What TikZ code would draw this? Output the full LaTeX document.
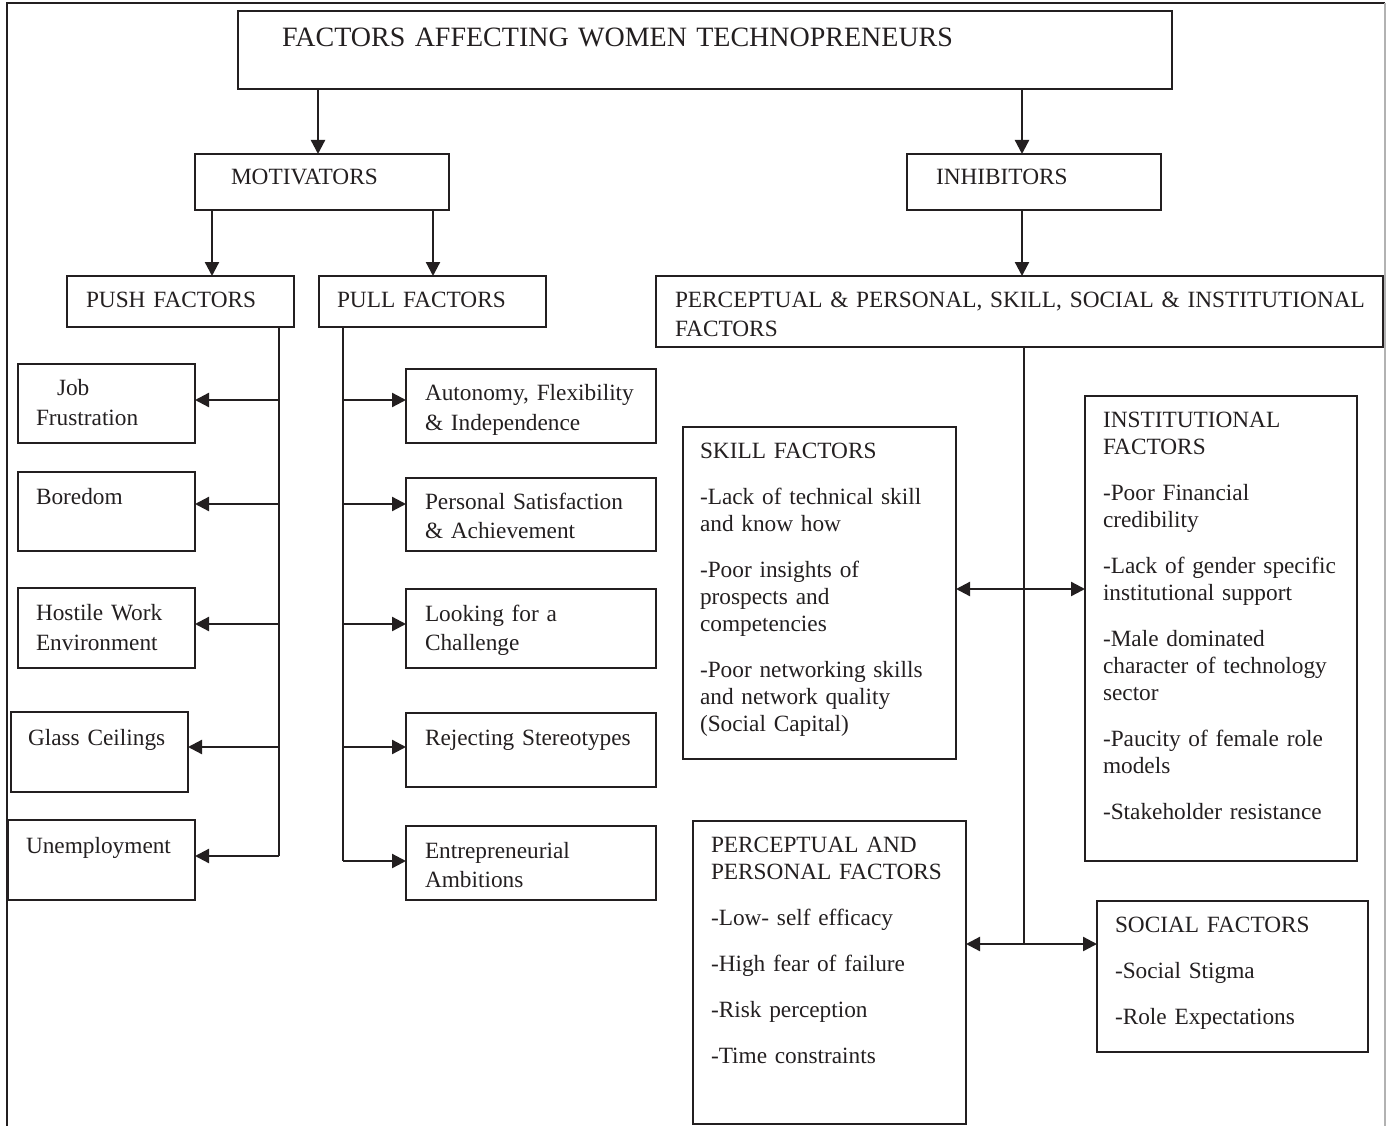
\documentclass[tikz,border=0pt]{standalone}
\usepackage{fontspec}
\setmainfont{Liberation Serif}
\usetikzlibrary{arrows.meta,calc}
\definecolor{ink}{RGB}{35,31,32}

\begin{document}
\begin{tikzpicture}[x=1pt, y=-1pt,
    every node/.style={font=\fontsize{23.3}{27}\selectfont, text=ink},
    factor/.style={draw=ink, line width=1.8pt, anchor=north west, align=left, inner xsep=18pt, inner ysep=0pt, outer sep=0pt},
    arr/.style={draw=ink, line width=2.3pt, -{Triangle[length=14pt, width=14pt]}},
    arr2/.style={draw=ink, line width=2.3pt, {Triangle[length=14pt, width=14pt]}-{Triangle[length=14pt, width=14pt]}},
    bus/.style={draw=ink, line width=1.8pt}]
    \useasboundingbox (0,0) rectangle (1386,1126);
    % Page frame
    \draw[ink, line width=1.4pt] (7,1130) -- (7,3) -- (1385,3);
    \draw[gray!60, line width=1.4pt] (1385,3) -- (1385,1130);

    % Top levels
    \node[factor, inner xsep=44pt, text width=846pt, text height=36pt, text depth=42pt, font=\fontsize{28}{34}\selectfont] (title) at (238,11) {FACTORS AFFECTING WOMEN TECHNOPRENEURS};
    \node[factor, inner xsep=36pt, text width=182pt, text height=31pt, text depth=25pt] (motiv) at (195,154) {MOTIVATORS};
    \node[factor, inner xsep=29pt, text width=196pt, text height=31pt, text depth=25pt] (inhib) at (907,154) {INHIBITORS};
    \node[factor, inner xsep=19pt, text width=189pt, text height=31pt, text depth=20pt] (push) at (67,276) {PUSH FACTORS};
    \node[factor, text width=191pt, text height=31pt, text depth=20pt] (pull) at (319,276) {PULL FACTORS};
    \node[factor, inner xsep=19pt, text width=689pt, text height=31pt, text depth=40pt, font=\fontsize{23.3}{29}\selectfont] (allfactors) at (656,276) {\mbox{PERCEPTUAL \& PERSONAL, SKILL, SOCIAL \& INSTITUTIONAL}\\FACTORS};

    % Push factors
    \node[factor, text width=141pt, text height=31pt, text depth=48pt, font=\fontsize{23.3}{30}\selectfont] (job) at (18,364) {\hspace*{21pt}Job\\Frustration};
    \node[factor, text width=141pt, text height=32pt, text depth=47pt] (boredom) at (18,472) {Boredom};
    \node[factor, text width=141pt, text height=32pt, text depth=48pt, font=\fontsize{23.3}{30}\selectfont] (hostile) at (18,588) {Hostile Work\\Environment};
    \node[factor, inner xsep=17pt, text width=143pt, text height=33pt, text depth=47pt] (glass) at (11,712) {Glass Ceilings};
    \node[factor, text width=151pt, text height=33pt, text depth=47pt] (unemp) at (8,820) {Unemployment};

    % Pull factors
    \node[factor, inner xsep=19pt, text width=212pt, text height=31pt, text depth=43pt, font=\fontsize{23.3}{30}\selectfont] (autonomy) at (406,369) {\mbox{Autonomy, Flexibility}\\\& Independence};
    \node[factor, inner xsep=19pt, text width=212pt, text height=31pt, text depth=42pt, font=\fontsize{23.3}{29}\selectfont] (personal) at (406,478) {Personal Satisfaction\\\& Achievement};
    \node[factor, inner xsep=19pt, text width=212pt, text height=32pt, text depth=47pt, font=\fontsize{23.3}{29}\selectfont] (challenge) at (406,589) {Looking for a\\Challenge};
    \node[factor, inner xsep=19pt, text width=212pt, text height=32pt, text depth=42pt] (stereo) at (406,713) {\mbox{Rejecting Stereotypes}};
    \node[factor, inner xsep=19pt, text width=212pt, text height=32pt, text depth=42pt, font=\fontsize{23.3}{29}\selectfont] (ambition) at (406,826) {Entrepreneurial\\Ambitions};

    % Inhibitor groups
    \node[factor, inner xsep=17pt, text width=239pt, text height=31pt, text depth=301pt] (skill) at (683,427) {SKILL FACTORS\\[19pt]-Lack of technical skill\\and know how\\[19pt]-Poor insights of\\prospects and\\competencies\\[19pt]-Poor networking skills\\and network quality\\(Social Capital)};
    \node[factor, text width=236pt, text height=31pt, text depth=434pt] (inst) at (1085,396) {INSTITUTIONAL\\FACTORS\\[19pt]-Poor Financial\\credibility\\[19pt]\mbox{-Lack of gender specific}\\institutional support\\[19pt]-Male dominated\\character of technology\\sector\\[19pt]-Paucity of female role\\models\\[19pt]-Stakeholder resistance};
    \node[factor, text width=237pt, text height=31pt, text depth=272pt] (perc) at (693,821) {PERCEPTUAL AND\\\mbox{PERSONAL FACTORS}\\[19pt]-Low- self efficacy\\[19pt]-High fear of failure\\[19pt]-Risk perception\\[19pt]-Time constraints};
    \node[factor, text width=235pt, text height=31pt, text depth=120pt] (social) at (1097,901) {SOCIAL FACTORS\\[19pt]-Social Stigma\\[19pt]-Role Expectations};

    % Arrows between levels
    \coordinate (tm) at (318,154);
    \coordinate (ti) at (1022,154);
    \draw[arr] (title.south -| tm) -- (tm);
    \draw[arr] (title.south -| ti) -- (ti);
    \coordinate (mp) at (212,276);
    \coordinate (ml) at (433,276);
    \coordinate (ia) at (1022,276);
    \draw[arr] (motiv.south -| mp) -- (mp);
    \draw[arr] (motiv.south -| ml) -- (ml);
    \draw[arr] (inhib.south -| ia) -- (ia);

    % Push bus
    \coordinate (pb1) at (279,400);
    \coordinate (pb2) at (279,504);
    \coordinate (pb3) at (279,624);
    \coordinate (pb4) at (279,747);
    \coordinate (pushbus) at (279,856);
    \draw[bus] (push.south -| pushbus) -- (pushbus);
    \draw[arr] (pb1) -- (pb1 -| job.east);
    \draw[arr] (pb2) -- (pb2 -| boredom.east);
    \draw[arr] (pb3) -- (pb3 -| hostile.east);
    \draw[arr] (pb4) -- (pb4 -| glass.east);
    \draw[arr] (pushbus) -- (pushbus -| unemp.east);

    % Pull bus
    \coordinate (ql1) at (343,400);
    \coordinate (ql2) at (343,504);
    \coordinate (ql3) at (343,624);
    \coordinate (ql4) at (343,747);
    \coordinate (pullbus) at (343,861);
    \draw[bus] (pull.south -| pullbus) -- (pullbus);
    \draw[arr] (ql1) -- (ql1 -| autonomy.west);
    \draw[arr] (ql2) -- (ql2 -| personal.west);
    \draw[arr] (ql3) -- (ql3 -| challenge.west);
    \draw[arr] (ql4) -- (ql4 -| stereo.west);
    \draw[arr] (pullbus) -- (pullbus -| ambition.west);

    % Inhibitor bus
    \coordinate (ib1) at (1024,589);
    \coordinate (ib2) at (1024,944);
    \draw[bus] (allfactors.south -| ib2) -- (ib2);
    \draw[arr2] (ib1 -| skill.east) -- (ib1 -| inst.west);
    \draw[arr2] (ib2 -| perc.east) -- (ib2 -| social.west);
\end{tikzpicture}
\end{document}
